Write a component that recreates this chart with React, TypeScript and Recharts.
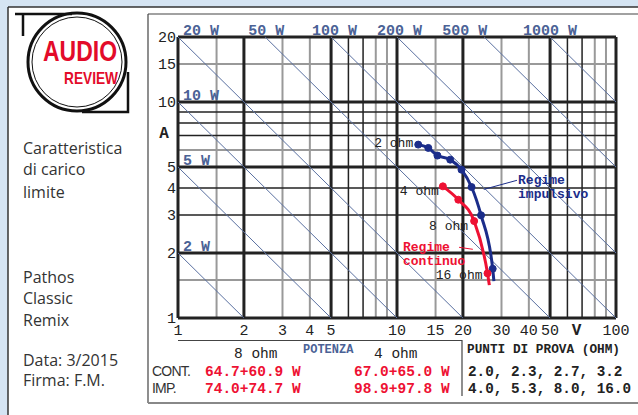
import React from "react";
import { ComposedChart, Line, XAxis, YAxis, ReferenceLine, ReferenceDot } from "recharts";

// scala log-log: tensione (V) in ascissa, corrente (A) in ordinata
const xTicks = [1, 2, 3, 4, 5, 10, 15, 20, 30, 40, 50, 100];
const yTicks = [1, 2, 3, 4, 5, 10, 15, 20];

const gridXMajor = [1, 2, 5, 10, 20, 50, 100];
const gridXDark = [6, 7, 60, 70];
const gridXLight = [1.5, 3, 4, 8, 9, 15, 30, 40, 80, 90];
const gridYMajor = [1, 2, 5, 10, 20];
const gridYDark = [3, 4, 7, 8, 9];
const gridYLight = [1.5, 6, 15];

// rette a potenza costante (W)
const powerLines = [2, 5, 10, 20, 50, 100, 200, 500, 1000];
const powerTopLabels = [20, 50, 100, 200, 500, 1000];
const powerLeftLabels = [10, 5, 2];

// regime impulsivo: 2.0, 2.3, 2.7, 3.2, 4.0, 5.3, 8.0, 16.0 ohm + coda
const impVolts = [12.5, 13.9, 15.3, 17.5, 19.7, 21.9, 24.2, 27.35, 27.7];
const impAmps = [6.35, 6.13, 5.65, 5.41, 4.86, 4.04, 2.99, 1.69, 1.48];
// regime continuo: 4.0, 5.3, 8.0, 16.0 ohm + coda
const contVolts = [16.2, 19.05, 22.5, 25.9, 26.4];
const contAmps = [4.07, 3.53, 2.81, 1.61, 1.42];

const ohmLabels = ["2 ohm", "4 ohm", "8 ohm", "16 ohm"];

const impData = impVolts.map((v, i) => ({ v, i: impAmps[i] }));
const contData = contVolts.map((v, i) => ({ v, i: contAmps[i] }));

const MONO = "'Liberation Mono', 'DejaVu Sans Mono', monospace";
const SANS = "'Open Sans', 'Liberation Sans', sans-serif";
const BLUE = "#1b2d8a";
const RED = "#ee1133";
const STEEL = "#5a70a0";
const INK = "#222";

// offset in px dei testi delle potenze rispetto all'inizio della retta
const topLabelDx = [5, -17, -19, -20, -42, -27];

const textShape =
  (text: string, dx: number, dy: number, style: any) =>
  (p: any) =>
    (
      <text x={p.cx + dx} y={p.cy + dy} {...style}>
        {text}
      </text>
    );

const note = (key: string, x: number, y: number, text: string, dx: number, dy: number, style: any) => (
  <ReferenceDot
    key={key}
    x={x}
    y={y}
    r={0}
    ifOverflow="visible"
    shape={textShape(text, dx, dy, style)}
  />
);

const dotFor = (color: string, n: number) => (p: any) =>
  p.index < n - 1 ? (
    <circle key={p.index} cx={p.cx} cy={p.cy} r={3.5} fill={color} stroke={color} />
  ) : (
    <g key={p.index} />
  );

const wStyle = { fontFamily: MONO, fontSize: 15, fontWeight: "bold", fill: "#4b6296" };
const ohmStyle = { fontFamily: MONO, fontSize: 13, fill: INK, textAnchor: "end" };

function Panel() {
  const t = (x: number, y: number, s: string, style: any = {}) => (
    <text x={x} y={y} fontFamily={SANS} fontSize={16} fill="#333" {...style}>
      {s}
    </text>
  );
  const m = (x: number, y: number, s: string, style: any = {}) => (
    <text x={x} y={y} fontFamily={MONO} fontSize={14.5} fill={INK} {...style}>
      {s}
    </text>
  );
  const narrow = { fontFamily: "'Liberation Sans', sans-serif", fontSize: 14, letterSpacing: -0.8 };
  return (
    <svg width={638} height={415} style={{ position: "absolute", left: 0, top: 0 }}>
      <rect x={0} y={0} width={638} height={415} fill="#d5e4f3" />
      <rect x={8} y={7} width={630} height={408} fill="#fff" />
      <line x1={8} y1={7} x2={638} y2={7} stroke="#333" strokeWidth={1.5} />
      <line x1={8} y1={7} x2={8} y2={415} stroke="#333" strokeWidth={1.5} />
      <line x1={148} y1={14} x2={638} y2={14} stroke="#444" strokeWidth={1.2} />
      <line x1={148} y1={14} x2={148} y2={403} stroke="#444" strokeWidth={1.2} />
      <line x1={148} y1={403} x2={638} y2={403} stroke="#888" strokeWidth={2} />

      {/* logo */}
      <circle cx={77} cy={62} r={49} fill="#fff" stroke="#111" strokeWidth={3} />
      <circle cx={77} cy={62} r={45} fill="none" stroke="#111" strokeWidth={1} />
      <path d="M15 14 H72 M23 14 V36" stroke="#111" strokeWidth={2.5} fill="none" />
      <path d="M128 72 V112 H82" stroke="#111" strokeWidth={2.5} fill="none" />
      <text x={43} y={61} fontFamily="'Liberation Sans', sans-serif" fontWeight="bold" fontSize={29}
        fill="#e30b2a" textLength={74} lengthAdjust="spacingAndGlyphs">AUDIO</text>
      <text x={64} y={84} fontFamily="'Liberation Sans', sans-serif" fontWeight="bold" fontSize={17}
        fill="#e30b2a" textLength={54} lengthAdjust="spacingAndGlyphs">REVIEW</text>

      {t(23, 154, "Caratteristica")}
      {t(23, 175, "di carico")}
      {t(23, 198, "limite")}
      {t(23, 283, "Pathos")}
      {t(23, 304, "Classic")}
      {t(23, 326, "Remix")}
      {t(23, 366, "Data: 3/2015")}
      {t(23, 386, "Firma: F.M.")}

      {/* tabella potenze */}
      <line x1={178} y1={340.5} x2={462} y2={340.5} stroke="#444" strokeWidth={1.2} />
      <line x1={462} y1={340} x2={462} y2={396} stroke="#444" strokeWidth={1.2} />
      {m(234, 358, "8 ohm")}
      {m(374, 358, "4 ohm")}
      <text x={303} y={353} fontFamily={MONO} fontWeight="bold" fontSize={12} fill="#4b6296">POTENZA</text>
      <text x={152} y={376} fill="#333" {...narrow}>CONT.</text>
      <text x={152} y={393} fill="#333" {...narrow}>IMP.</text>
      {m(205, 376, "64.7+60.9 W", { fill: RED, fontWeight: "bold" })}
      {m(354, 376, "67.0+65.0 W", { fill: RED, fontWeight: "bold" })}
      {m(205, 393, "74.0+74.7 W", { fill: RED, fontWeight: "bold" })}
      {m(354, 393, "98.9+97.8 W", { fill: RED, fontWeight: "bold" })}
      {m(467, 353, "PUNTI DI PROVA (OHM)", { fontWeight: "bold", fontSize: 12.75 })}
      {m(468, 376, "2.0, 2.3, 2.7, 3.2", { fontWeight: "bold", fontSize: 14.3 })}
      {m(468, 393, "4.0, 5.3, 8.0, 16.0", { fontWeight: "bold", fontSize: 14.3 })}
    </svg>
  );
}

export default function App() {
  const tick = { fontFamily: MONO, fontSize: 15, fill: INK };
  return (
    <div style={{ position: "fixed", left: 0, top: 0, width: 638, height: 415, overflow: "hidden" }}>
      <Panel />
      <div style={{ position: "absolute", left: 0, top: 0 }}>
        <ComposedChart width={638} height={415} margin={{ top: 37, right: 22, left: 148, bottom: 67 }}>
          <XAxis
            dataKey="v"
            type="number"
            scale="log"
            domain={[1, 100]}
            allowDataOverflow
            ticks={xTicks}
            interval={0}
            axisLine={false}
            tickLine={false}
            tickSize={4}
            tickMargin={2}
            height={30}
            tick={tick}
          />
          <YAxis
            type="number"
            scale="log"
            domain={[1, 20]}
            allowDataOverflow
            ticks={yTicks}
            interval={0}
            axisLine={false}
            tickLine={false}
            tickSize={0}
            tickMargin={2}
            width={30}
            tick={tick}
          />

          {gridXLight.map((x) => <ReferenceLine key={"xl" + x} x={x} stroke="#999" strokeWidth={2} />)}
          {gridYLight.map((y) => <ReferenceLine key={"yl" + y} y={y} stroke="#999" strokeWidth={2} />)}
          {gridXDark.map((x) => <ReferenceLine key={"xd" + x} x={x} stroke={INK} strokeWidth={1.5} />)}
          {gridYDark.map((y) => <ReferenceLine key={"yd" + y} y={y} stroke={INK} strokeWidth={1.5} />)}
          {gridXMajor.map((x) => <ReferenceLine key={"xm" + x} x={x} stroke={INK} strokeWidth={3} />)}
          {gridYMajor.map((y) => <ReferenceLine key={"ym" + y} y={y} stroke={INK} strokeWidth={3} />)}

          {powerLines.map((p) => (
            <ReferenceLine
              key={"p" + p}
              segment={[
                { x: Math.max(1, p / 20), y: Math.min(20, p) },
                { x: Math.min(100, p), y: Math.max(1, p / 100) },
              ]}
              stroke={STEEL}
              strokeWidth={1}
            />
          ))}
          {powerTopLabels.map((p, k) => note("tw" + p, p / 20, 20, `${p} W`, topLabelDx[k], -2, wStyle))}
          {powerLeftLabels.map((p) => note("lw" + p, 1, p, `${p} W`, 5, -2, wStyle))}

          {note("A", 1, 6.83, "A", -14, 0, { fontFamily: MONO, fontSize: 16, fontWeight: "bold", fill: INK, textAnchor: "middle" })}
          {note("V", 66, 1, "V", 0, 17, { fontFamily: MONO, fontSize: 16, fontWeight: "bold", fill: INK, textAnchor: "middle" })}

          <ReferenceLine segment={[{ x: 24.9, y: 3.94 }, { x: 35.3, y: 4.34 }]} stroke={BLUE} strokeWidth={1} />
          <ReferenceLine segment={[{ x: 19.2, y: 2.125 }, { x: 22.2, y: 2.08 }]} stroke={RED} strokeWidth={1} />

          <Line data={impData} dataKey="i" type="monotone" stroke={BLUE} strokeWidth={3}
            dot={dotFor(BLUE, impData.length)} activeDot={false} isAnimationActive={false} />
          <Line data={contData} dataKey="i" type="monotone" stroke={RED} strokeWidth={3}
            dot={dotFor(RED, contData.length)} activeDot={false} isAnimationActive={false} />

          {note("o2", impVolts[0], impAmps[0], ohmLabels[0], -5, 2, ohmStyle)}
          {note("o4", contVolts[0], contAmps[0], ohmLabels[1], -4, 8.5, ohmStyle)}
          {note("o8", contVolts[2], contAmps[2], ohmLabels[2], -6, 9, ohmStyle)}
          {note("o16", contVolts[3], contAmps[3], ohmLabels[3], -5, 6, ohmStyle)}

          {note("ri1", 35.7, 4.18, "Regime", 0, 0, { fontFamily: MONO, fontSize: 13, fontWeight: "bold", fill: BLUE })}
          {note("ri2", 35.7, 4.18, "impulsivo", 0, 14, { fontFamily: MONO, fontSize: 13, fontWeight: "bold", fill: BLUE })}
          {note("rc1", 10.65, 2.05, "Regime", 0, 0, { fontFamily: MONO, fontSize: 13, fontWeight: "bold", fill: RED })}
          {note("rc2", 10.65, 2.05, "continuo", 0, 14, { fontFamily: MONO, fontSize: 13, fontWeight: "bold", fill: RED })}
        </ComposedChart>
      </div>
    </div>
  );
}
